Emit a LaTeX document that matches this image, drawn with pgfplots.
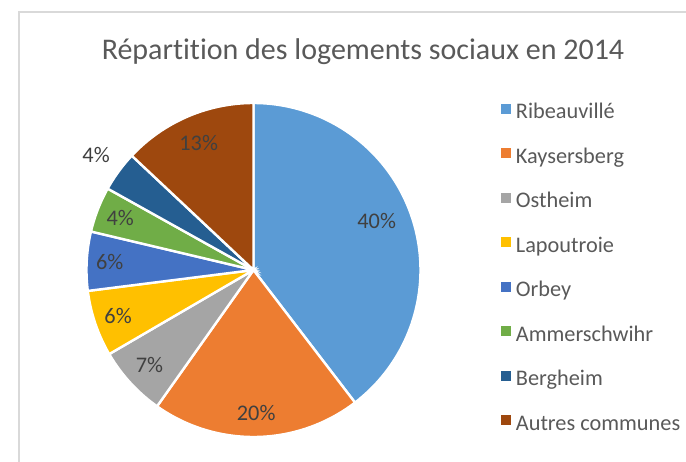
\documentclass[border=0pt]{standalone}
\usepackage{pgfplots}
\usepackage{pgfplotstable}
\pgfplotsset{compat=1.18}
\usepackage{fontspec}
\setmainfont{Carlito}[RawFeature={-liga;-clig;-dlig;-calt}]
\definecolor{cA}{HTML}{5B9BD5}
\definecolor{cB}{HTML}{ED7D31}
\definecolor{cC}{HTML}{A5A5A5}
\definecolor{cD}{HTML}{FFC000}
\definecolor{cE}{HTML}{4472C4}
\definecolor{cF}{HTML}{70AD47}
\definecolor{cG}{HTML}{255E91}
\definecolor{cH}{HTML}{9E480E}
\definecolor{titlegray}{HTML}{595959}
\definecolor{labgray}{HTML}{404040}
\definecolor{framegray}{HTML}{D9D9D9}
\pgfplotstableread[col sep=comma]{
name,value,col,lr,shift
Ribeauvillé,39.6,cA,132.6,3
Kaysersberg,20.2,cB,142.7,0
Ostheim,6.8,cC,141,0
Lapoutroie,6.4,cD,143,0
Orbey,5.7,cE,144,0
Ammerschwihr,4.4,cF,143,0
Bergheim,3.9,cG,195,0
Autres communes,13.0,cH,138,0
}\pietable
\def\cx{253.5}
\def\cy{192}
\def\pr{167}
\begin{document}
\begin{tikzpicture}
\useasboundingbox (0,0) rectangle (686bp,462bp);
\begin{axis}[
  at={(0,0)}, anchor=south west,
  x=1bp, y=1bp, xmin=0, xmax=686, ymin=0, ymax=462,
  hide axis, clip=false,
  legend cell align=left,
  legend image code/.code={\fill[#1, draw=none] (0bp,0bp) rectangle (10.5bp,10bp);},
  legend style={at={(axis cs:500.7,358.7)}, anchor=north west, draw=none, fill=none,
    inner sep=0pt, row sep=24.5bp,
    font=\fontsize{22.3bp}{26bp}\selectfont, text=titlegray,
    nodes={inner sep=0pt, text height=15bp, text depth=5bp},
    /tikz/every odd column/.append style={column sep=4.5bp}},
]
\draw[color=framegray, line width=2bp] (axis cs:19,-5) -- (axis cs:19,450) -- (axis cs:700,450);
\node[anchor=base, font=\fontsize{30bp}{36bp}\selectfont, text=titlegray] at (axis cs:363,402) {Répartit\kern0pt ion des logements sociaux en 2014};
\xdef\cum{0}
\pgfplotsforeachungrouped \i in {0,...,7}{
  \pgfplotstablegetelem{\i}{value}\of\pietable \let\val\pgfplotsretval
  \pgfplotstablegetelem{\i}{col}\of\pietable \let\col\pgfplotsretval
  \pgfplotstablegetelem{\i}{name}\of\pietable \let\nm\pgfplotsretval
  \pgfplotstablegetelem{\i}{lr}\of\pietable \let\lr\pgfplotsretval
  \pgfplotstablegetelem{\i}{shift}\of\pietable \let\sh\pgfplotsretval
  \pgfmathsetmacro\aS{90-3.6*\cum}
  \pgfmathsetmacro\aE{90-3.6*(\cum+\val)}
  \pgfmathsetmacro\aM{(\aS+\aE)/2+\sh}
  \pgfmathsetmacro\lx{\cx+\lr*cos(\aM)}
  \pgfmathsetmacro\ly{\cy+\lr*sin(\aM)}
  \pgfmathsetmacro\newcum{\cum+\val}\xdef\cum{\newcum}
  \pgfmathtruncatemacro\lab{round(\val)}
  \edef\temp{\noexpand\addplot[fill=\col, draw=white, line width=2.4bp, domain=\aE:\aS, samples=90] ({\cx+\pr*cos(x)},{\cy+\pr*sin(x)}) -- (axis cs:\cx,\cy) -- cycle;
  \noexpand\addlegendentry{\nm}
  \noexpand\node[font=\noexpand\fontsize{22.3bp}{26bp}\noexpand\selectfont, text=labgray] at (axis cs:\lx,\ly) {\lab\noexpand\%};}
  \temp
}
\end{axis}
\end{tikzpicture}
\end{document}
